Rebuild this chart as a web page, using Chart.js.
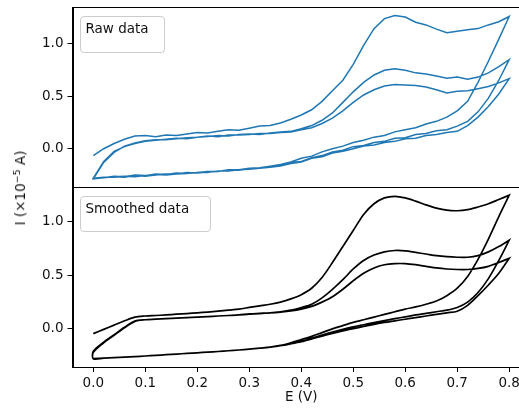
<!DOCTYPE html>
<html>
<head>
<meta charset="utf-8">
<script src="https://cdn.jsdelivr.net/npm/chart.js"></script>
<style>
  html, body { margin: 0; width: 519px; height: 419px; overflow: hidden; background: #fff; font-family: 'DejaVu Sans', sans-serif; }
  #wrap { position: relative; width: 519px; height: 419px; overflow: hidden; }
  #c { position: absolute; left: 0; top: 0; }
  .leg { position: absolute; border: 1px solid #ccc; border-radius: 4px; background: rgba(255,255,255,0.8); font-size: 13.5px; color: #111; box-sizing: border-box; }
  .leg span { position: absolute; left: 5px; top: 3px; white-space: nowrap; }
  #ylab { position: absolute; left: 20px; top: 188px; transform: translate(-50%,-50%) rotate(-90deg); white-space: nowrap; font-size: 13.5px; color: #111; }
  #ylab sup { font-size: 70%; line-height: 0; }
</style>
</head>
<body>
<div id="wrap">
  <canvas id="c" width="532" height="419"></canvas>
  <div class="leg" style="left:79.5px;top:16px;width:85px;height:37px;"><span>Raw data</span></div>
  <div class="leg" style="left:79.5px;top:196px;width:131px;height:36px;"><span>Smoothed data</span></div>
  <div id="ylab">I (×10<sup>−5</sup> A)</div>
</div>
<script>
// potencial de barrido (V), ida 0 -> 0.8 ; la vuelta usa el mismo en orden inverso
const potential = [0.00, 0.02, 0.04, 0.06, 0.08, 0.10, 0.12, 0.14, 0.16, 0.18,
  0.20, 0.22, 0.24, 0.26, 0.28, 0.30, 0.32, 0.34, 0.36, 0.38,
  0.40, 0.42, 0.44, 0.46, 0.48, 0.50, 0.52, 0.54, 0.56, 0.58,
  0.60, 0.62, 0.64, 0.66, 0.68, 0.70, 0.72, 0.74, 0.76, 0.78, 0.80];
const xTicks = [0.0, 0.1, 0.2, 0.3, 0.4, 0.5, 0.6, 0.7, 0.8];
const yTicks = [0.0, 0.5, 1.0];

// datos crudos (x1e-5 A), ciclos 1..3
const rawFwd1 = [-0.065, 0.0, 0.05, 0.09, 0.12, 0.125, 0.115, 0.13, 0.125, 0.14,
  0.155, 0.15, 0.165, 0.18, 0.175, 0.195, 0.215, 0.22, 0.245, 0.28,
  0.32, 0.37, 0.45, 0.55, 0.65, 0.80, 0.98, 1.14, 1.235, 1.265,
  1.25, 1.2, 1.175, 1.135, 1.1, 1.115, 1.13, 1.14, 1.175, 1.205, 1.255];
const rawRev1 = [1.255, 1.04, 0.83, 0.63, 0.45, 0.36, 0.30, 0.26, 0.235, 0.2,
  0.18, 0.16, 0.125, 0.11, 0.08, 0.06, 0.025, 0.0, -0.03, -0.07,
  -0.09, -0.125, -0.15, -0.165, -0.18, -0.185, -0.2, -0.2, -0.215, -0.215,
  -0.225, -0.235, -0.23, -0.245, -0.24, -0.255, -0.25, -0.265, -0.26, -0.275, -0.28];
const rawFwd2 = [-0.28, -0.12, -0.025, 0.02, 0.05, 0.07, 0.08, 0.09, 0.1, 0.095,
  0.11, 0.115, 0.125, 0.12, 0.135, 0.14, 0.135, 0.15, 0.16, 0.165,
  0.19, 0.22, 0.27, 0.34, 0.44, 0.54, 0.63, 0.7, 0.745, 0.76,
  0.745, 0.72, 0.71, 0.69, 0.67, 0.68, 0.66, 0.68, 0.72, 0.78, 0.845];
const rawRev2 = [0.845, 0.65, 0.48, 0.35, 0.26, 0.215, 0.18, 0.17, 0.145, 0.135,
  0.105, 0.1, 0.07, 0.06, 0.03, 0.02, -0.015, -0.03, -0.065, -0.085,
  -0.12, -0.13, -0.16, -0.17, -0.185, -0.19, -0.205, -0.2, -0.215, -0.22,
  -0.23, -0.225, -0.24, -0.24, -0.25, -0.26, -0.255, -0.27, -0.265, -0.275, -0.285];
const rawFwd3 = [-0.285, -0.13, -0.035, 0.025, 0.055, 0.075, 0.085, 0.085, 0.095, 0.105,
  0.11, 0.12, 0.115, 0.13, 0.13, 0.135, 0.145, 0.145, 0.155, 0.16,
  0.18, 0.2, 0.24, 0.29, 0.36, 0.44, 0.51, 0.56, 0.595, 0.61,
  0.605, 0.6, 0.585, 0.56, 0.53, 0.545, 0.55, 0.57, 0.59, 0.625, 0.665];
const rawRev3 = [0.665, 0.52, 0.4, 0.3, 0.22, 0.165, 0.155, 0.135, 0.125, 0.1,
  0.095, 0.07, 0.06, 0.035, 0.025, 0.0, -0.025, -0.04, -0.075, -0.09,
  -0.125, -0.14, -0.165, -0.175, -0.185, -0.195, -0.2, -0.21, -0.21, -0.225,
  -0.225, -0.235, -0.24, -0.25, -0.245, -0.255, -0.265, -0.26, -0.27, -0.27, -0.28];

// datos suavizados
const smFwd1 = [-0.045, -0.005, 0.035, 0.075, 0.11, 0.12, 0.125, 0.13, 0.137, 0.143,
  0.15, 0.157, 0.165, 0.175, 0.185, 0.20, 0.215, 0.23, 0.25, 0.28,
  0.32, 0.38, 0.48, 0.62, 0.77, 0.92, 1.07, 1.17, 1.225, 1.24,
  1.225, 1.195, 1.16, 1.13, 1.11, 1.105, 1.115, 1.14, 1.17, 1.21, 1.25];
const smRev1 = [1.25, 1.05, 0.84, 0.65, 0.49, 0.38, 0.31, 0.26, 0.23, 0.205,
  0.185, 0.16, 0.135, 0.11, 0.085, 0.06, 0.03, 0.0, -0.035, -0.07,
  -0.10, -0.13, -0.155, -0.17, -0.18, -0.19, -0.198, -0.205, -0.212, -0.218,
  -0.224, -0.23, -0.236, -0.242, -0.248, -0.254, -0.26, -0.265, -0.27, -0.275, -0.28];
const smFwd2 = [-0.22, -0.13, -0.06, 0.01, 0.07, 0.085, 0.09, 0.095, 0.10, 0.105,
  0.11, 0.115, 0.12, 0.125, 0.13, 0.14, 0.145, 0.15, 0.16, 0.175,
  0.20, 0.23, 0.29, 0.37, 0.46, 0.56, 0.64, 0.69, 0.72, 0.733,
  0.73, 0.715, 0.70, 0.685, 0.675, 0.67, 0.67, 0.685, 0.72, 0.77, 0.83];
const smRev2 = [0.83, 0.64, 0.47, 0.34, 0.25, 0.20, 0.175, 0.16, 0.145, 0.13,
  0.112, 0.095, 0.077, 0.058, 0.038, 0.018, -0.005, -0.03, -0.058, -0.088,
  -0.115, -0.137, -0.155, -0.17, -0.18, -0.19, -0.198, -0.205, -0.212, -0.218,
  -0.224, -0.23, -0.236, -0.242, -0.248, -0.254, -0.26, -0.265, -0.27, -0.275, -0.28];
const smFwd3 = [-0.21, -0.125, -0.055, 0.015, 0.072, 0.085, 0.09, 0.095, 0.10, 0.105,
  0.11, 0.115, 0.12, 0.125, 0.13, 0.137, 0.143, 0.149, 0.157, 0.168,
  0.185, 0.21, 0.25, 0.30, 0.37, 0.45, 0.52, 0.57, 0.60, 0.61,
  0.61, 0.60, 0.585, 0.57, 0.56, 0.555, 0.555, 0.565, 0.585, 0.62, 0.66];
const smRev3 = [0.66, 0.52, 0.41, 0.31, 0.22, 0.165, 0.15, 0.135, 0.12, 0.105,
  0.09, 0.075, 0.06, 0.042, 0.022, 0.002, -0.02, -0.043, -0.068, -0.095,
  -0.12, -0.14, -0.158, -0.171, -0.181, -0.19, -0.198, -0.205, -0.212, -0.218,
  -0.224, -0.23, -0.236, -0.242, -0.248, -0.254, -0.259, -0.264, -0.269, -0.274, -0.278];

// une ida/vuelta de cada ciclo en una sola traza
function loop(branches) {
  const pts = [];
  branches.forEach((b, i) => {
    const e = i % 2 === 0 ? potential : potential.slice().reverse();
    b.forEach((v, k) => pts.push({ x: e[k], y: v }));
  });
  return pts;
}

const font = { family: 'DejaVu Sans', size: 13.5 };

function yAxis(weight, min, max) {
  return {
    type: 'linear', position: 'left', stack: 'panels', stackWeight: 1, weight: weight,
    min: min, max: max,
    afterBuildTicks: s => { s.ticks = yTicks.map(v => ({ value: v })); },
    afterFit: s => { s.width = 72.5; s.paddingTop = 0; s.paddingBottom = 0; },
    ticks: { callback: v => v.toFixed(1), color: '#111', font: font, padding: 4 },
    grid: { drawOnChartArea: false, tickLength: 5, tickColor: '#000' },
    border: { color: '#000', width: 1 }
  };
}

// marco de cada panel
const frame = {
  id: 'frame',
  afterDraw(chart) {
    const { ctx, chartArea } = chart;
    ctx.save();
    ctx.strokeStyle = '#000';
    ctx.lineWidth = 1;
    ['yTop', 'yBot'].forEach(id => {
      const s = chart.scales[id];
      ctx.strokeRect(Math.round(chartArea.left) + 0.5, Math.round(s.top) + 0.5,
        Math.round(chartArea.right - chartArea.left), Math.round(s.bottom - s.top));
    });
    ctx.restore();
  }
};

new Chart(document.getElementById('c'), {
  type: 'scatter',
  data: {
    datasets: [
      {
        label: 'Raw data',
        data: loop([rawFwd1, rawRev1, rawFwd2, rawRev2, rawFwd3, rawRev3]),
        yAxisID: 'yTop', borderColor: '#1f77b4', borderWidth: 1.5,
        showLine: true, pointRadius: 0, tension: 0
      },
      {
        label: 'Smoothed data',
        data: loop([smFwd1, smRev1, smFwd2, smRev2, smFwd3, smRev3]),
        yAxisID: 'yBot', borderColor: '#000', borderWidth: 1.7,
        showLine: true, pointRadius: 0, tension: 0.3
      }
    ]
  },
  options: {
    responsive: false,
    animation: false,
    layout: { padding: { top: 7, left: 0, right: 2, bottom: 0 } },
    plugins: { legend: { display: false }, tooltip: { enabled: false } },
    scales: {
      x: {
        type: 'linear', min: -0.04, max: 0.84,
        afterBuildTicks: s => { s.ticks = xTicks.map(v => ({ value: v })); },
        afterFit: s => { s.height = 52; },
        ticks: { callback: v => v.toFixed(1), color: '#111', font: font, padding: 3, maxRotation: 0, autoSkip: false },
        grid: { drawOnChartArea: false, tickLength: 5, tickColor: '#000' },
        border: { color: '#000', width: 1 },
        title: { display: true, text: 'E (V)', color: '#111', font: font, padding: { top: 0, bottom: 13 } }
      },
      yBot: yAxis(1, -0.357, 1.327),
      yTop: yAxis(2, -0.363, 1.345)
    }
  },
  plugins: [frame]
});
</script>
</body>
</html>
